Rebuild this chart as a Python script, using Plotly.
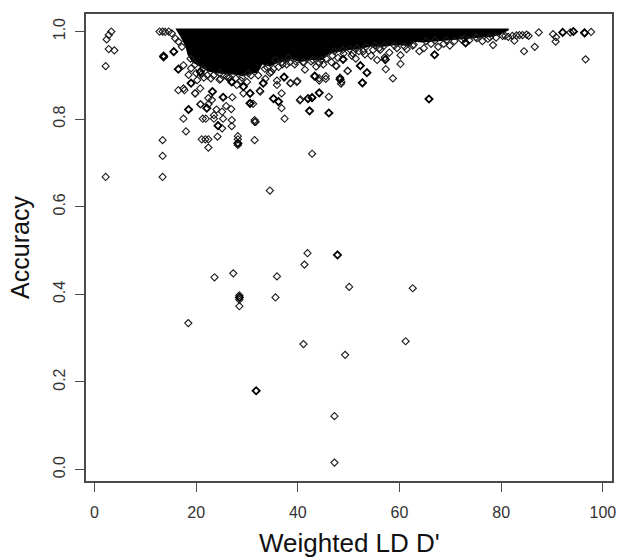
import plotly.graph_objects as go

# Solid overplotted core of the cloud: lower edge.
mass_x = [15.9,16.9,17.9,18.3,19.2,20.8,22.4,24.1,26.1,27.3,29.3,31.2,32.0,32.6,33.0,34.5,36.5,38.9,40.4,42.4,44.9,46.3,48.3,50.2,52.2,54.2,56.8,58.7,60.7,62.0,63.0,64.6,71.8,74.4,78.3,79.7,81.5]
mass_low = [1.007,0.988,0.965,0.947,0.930,0.918,0.908,0.905,0.902,0.902,0.898,0.905,0.905,0.915,0.925,0.920,0.930,0.936,0.930,0.935,0.935,0.950,0.955,0.958,0.960,0.965,0.965,0.968,0.968,0.966,0.976,0.975,0.982,0.984,0.988,0.992,1.003]
mass_top = 1.007

# Separately visible points
acc_x = [3.3,2.8,2.4,2.8,3.9,2.2,2.2,13.4,13.4,13.4,13.6,13.6,12.8,13.4,13.9,14.6,15.2,15.9,16.5,17.2,
         18.45,28.5,28.5,28.5,35.6,41.1,49.3,50.1,61.2,62.6,47.2,47.2,23.6,27.3,35.9,41.3,41.9,34.5,42.8,
         96.6,97.7,96.4,93.6,90.7,90.2,90.8,86.6,84.5,87.4,82.6,78.4,80.3,60.2,60.2,58.7,57.3,57.1,
         52.7,52.3,49.8,48.5,47.5,46.1,42.8,44.2,45.5,41.4,40.4,37.4,31.5,40.5,36.8,36.8,31.5,31.5,30.6,31.2,
         32.5,35.9,35.9,38.5,39.9,43.4,44.2,45.5,47.6,49.8,48.3,48.6,34.5,
         17.5,18.5,16.5,17.7,17.5,18.5,17.5,18.0,21.1,21.8,22.4,22.4,25.1,27.0,27.0,21.3,21.9,23.5,23.5,25.3,
         20.9,22.4,24.0,25.1,25.9,26.9,22.4,23.1,27.1,19.8,20.8,20.8,20.2,19.8,28.2,28.2,28.2,31.7,24.2,29.3,
         32.6,38.6,39.8,27.0,21.5,24.6,26.0,28.0,30.0,33.6,34.8,36.2,37.8,
         44.6,46.6,50.8,51.4,52.9,54.4,55.6,56.2,58.0,59.5,61.4,62.6,63.9,64.8,66.2,67.6,68.7,69.9,70.8,72.2,73.7,75.2,76.3,77.4,79.0,81.4,83.0,84.2,85.4,
         19.0,20.0,21.3,22.9,24.7,26.6,28.8,30.3,34.0,35.2,37.0,38.4,39.4,41.0,42.6,43.6,45.0,46.8,47.9,49.0,50.6,52.0,53.2,54.8,56.0,
         18.9,19.8,21.0,22.2,23.4,24.8,26.3,27.8,29.0,30.8,32.2,33.5,35.6,36.9,38.2,39.6,41.2,43.0,44.2,45.6,47.2,48.8,50.2,51.6,53.4,55.2,57.0,59.0,61.0,62.8,65.2,67.0,69.2,72.8,75.0,77.8,80.8,82.2,83.6,85.0]
acc_y = [1.0,0.992,0.982,0.96,0.957,0.921,0.668,0.752,0.716,0.668,0.941,0.945,1.0,1.0,0.999,1.0,0.996,0.984,0.977,0.965,
         0.3345,0.373,0.388,0.398,0.393,0.2865,0.262,0.417,0.293,0.414,0.122,0.016,0.439,0.448,0.441,0.468,0.494,0.637,0.721,
         0.9365,0.999,0.997,0.998,0.977,0.994,0.987,0.965,0.955,0.998,0.979,0.969,0.99,0.946,0.926,0.893,0.914,0.941,
         0.883,0.922,0.91,0.881,0.922,0.851,0.849,0.888,0.892,0.913,0.843,0.801,0.752,0.845,0.825,0.859,0.798,0.794,0.836,0.835,
         0.865,0.878,0.888,0.882,0.887,0.898,0.893,0.898,0.921,0.91,0.895,0.885,0.905,
         0.923,0.901,0.866,0.866,0.87,0.822,0.801,0.772,0.754,0.754,0.754,0.735,0.779,0.798,0.784,0.801,0.801,0.801,0.809,0.801,
         0.834,0.834,0.822,0.817,0.83,0.823,0.848,0.844,0.85,0.859,0.87,0.834,0.889,0.859,0.761,0.754,0.741,0.794,0.76,0.859,
         0.863,0.882,0.885,0.885,0.895,0.89,0.897,0.878,0.885,0.892,0.908,0.919,0.925,
         0.935,0.93,0.95,0.938,0.955,0.945,0.935,0.958,0.952,0.962,0.96,0.968,0.955,0.962,0.972,0.965,0.972,0.968,0.978,0.982,0.98,0.985,0.978,0.983,0.986,0.988,0.991,0.992,0.99,
         0.916,0.905,0.915,0.893,0.905,0.895,0.888,0.905,0.918,0.915,0.925,0.93,0.925,0.93,0.932,0.92,0.925,0.945,0.94,0.95,0.945,0.955,0.948,0.958,0.962,
         0.938,0.925,0.902,0.9,0.9,0.892,0.895,0.893,0.895,0.9,0.9,0.915,0.935,0.93,0.94,0.932,0.93,0.935,0.928,0.938,0.955,0.958,0.96,0.962,0.965,0.968,0.968,0.968,0.966,0.97,0.978,0.98,0.98,0.984,0.987,0.987,0.99,0.99,0.992,0.993]

# Heavily overplotted positions, which print darker
dup_x = [28.5,31.8,47.8,65.8,73.0,66.9,53.6,52.7,52.3,48.3,48.9,46.1,44.2,42.8,42.3,43.3,37.3,33.2,36.2,35.2,30.6,30.6,
         15.6,16.5,18.5,20.8,22.1,23.2,24.3,25.3,27.0,19.0,29.3,42.0,13.6,28.2,57.2,92.1,94.2,96.4]
dup_y = [0.393,0.18,0.49,0.846,0.974,0.947,0.906,0.883,0.922,0.891,0.9365,0.814,0.86,0.849,0.819,0.898,0.896,0.882,0.84,0.847,0.859,0.836,
         0.954,0.914,0.822,0.908,0.825,0.863,0.785,0.85,0.885,0.882,0.874,0.847,0.943,0.745,0.936,0.998,1.0,0.997]

x_ticks = [0,20,40,60,80,100]
y_ticks = [0.0,0.2,0.4,0.6,0.8,1.0]
y_labels = ["0.0","0.2","0.4","0.6","0.8","1.0"]
x_title = "Weighted LD D'"
y_title = "Accuracy"

FONT = "Liberation Sans"
AXIS = "#4a4a4a"

fig = go.Figure()
fig.add_trace(go.Scatter(
    x=mass_x + mass_x[::-1],
    y=mass_low + [mass_top] * len(mass_x),
    mode="lines", fill="toself", fillcolor="#000000",
    line=dict(width=0), hoverinfo="skip", showlegend=False))
fig.add_trace(go.Scatter(
    x=acc_x, y=acc_y, mode="markers", showlegend=False,
    marker=dict(symbol="diamond-open", size=5.5, color="#1a1a1a", line=dict(width=1.1, color="#1a1a1a"))))
fig.add_trace(go.Scatter(
    x=dup_x, y=dup_y, mode="markers", showlegend=False,
    marker=dict(symbol="diamond-open", size=5.5, color="#000000", line=dict(width=1.8, color="#000000"))))

axis_common = dict(showgrid=False, zeroline=False, showline=True, mirror=True,
                   linecolor=AXIS, linewidth=1.5, ticks="outside", ticklen=9,
                   tickwidth=1, tickcolor=AXIS,
                   tickfont=dict(family=FONT, size=16, color="#333333"))
fig.update_xaxes(range=[-1.67, 101.8], tickvals=x_ticks, ticktext=[str(v) for v in x_ticks],
                 ticklabelstandoff=7, **axis_common)
fig.update_yaxes(range=[-0.026, 1.04], tickvals=y_ticks, ticktext=y_labels, tickangle=-90,
                 ticklabelstandoff=4,
                 title=dict(text=y_title, standoff=14, font=dict(family=FONT, size=25, color="#111111")),
                 **axis_common)
fig.add_annotation(text=x_title, xref="paper", yref="paper", x=0.5, y=-0.133,
                   xanchor="center", yanchor="middle", showarrow=False,
                   font=dict(family=FONT, size=26, color="#111111"))
fig.update_layout(width=617, height=558, paper_bgcolor="white", plot_bgcolor="white",
                  margin=dict(l=85.5, r=4.5, t=13.5, b=77, autoexpand=False))
fig.write_html("out.html", config={"displayModeBar": False},
               post_script="document.body.style.margin='0';document.body.style.overflow='hidden';")
